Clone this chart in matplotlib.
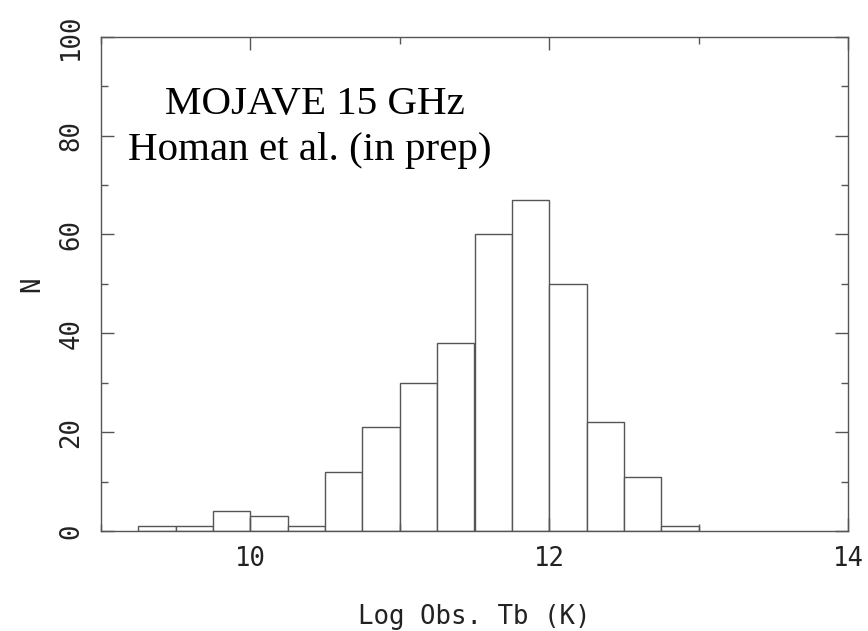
import matplotlib
matplotlib.use("Agg")
import matplotlib.pyplot as plt
from matplotlib.ticker import MultipleLocator

# Data
bin_left_edges = [9.25, 9.5, 9.75, 10.0, 10.25, 10.5, 10.75, 11.0, 11.25,
                  11.5, 11.75, 12.0, 12.25, 12.5, 12.75]
bin_width = 0.25
counts = [1, 1, 4, 3, 1, 12, 21, 30, 38, 60, 67, 50, 22, 11, 1]
x_label = "Log Obs. Tb (K)"
y_label = "N"
annot_lines = ["MOJAVE 15 GHz", "Homan et al. (in prep)"]

line_col = "#555555"
text_col = "#222222"
tick_font = "DejaVu Sans Mono"

fig = plt.figure(figsize=(8.68, 6.31), dpi=100)
ax = fig.add_axes([101 / 868, 100 / 631, 747 / 868, 494.3 / 631])

ax.bar(bin_left_edges, counts, width=bin_width, align="edge",
       facecolor="white", edgecolor=line_col, linewidth=1.0)

ax.set_xlim(9, 14)
ax.set_ylim(0, 100)

ax.xaxis.set_major_locator(MultipleLocator(2))
ax.xaxis.set_minor_locator(MultipleLocator(1))
ax.yaxis.set_major_locator(MultipleLocator(20))
ax.yaxis.set_minor_locator(MultipleLocator(10))

for s in ax.spines.values():
    s.set_color(line_col)
    s.set_linewidth(1.0)

ax.tick_params(which="both", direction="in", top=True, right=True,
               color=line_col, width=1.0)
ax.tick_params(which="major", length=9.7)
ax.tick_params(which="minor", length=5)
ax.tick_params(axis="x", which="major", pad=11, labelsize=18.5,
               labelcolor=text_col)
ax.tick_params(axis="y", which="major", pad=12, labelsize=18.5,
               labelcolor=text_col, labelrotation=90)
for lab in ax.get_xticklabels() + ax.get_yticklabels():
    lab.set_fontfamily(tick_font)
for lab in ax.get_yticklabels():
    lab.set_verticalalignment("center")

ax.set_xlabel(x_label, fontsize=18.5, fontfamily=tick_font, color=text_col)
ax.set_ylabel(y_label, fontsize=18.5, fontfamily=tick_font, color=text_col)
ax.xaxis.set_label_coords(0.5, -0.148)
ax.yaxis.set_label_coords(-0.074, 0.5)

ax.text(10.43, 84.3, annot_lines[0], ha="center", va="baseline",
        fontsize=29.5, fontfamily="Liberation Serif", color="black")
ax.text(10.40, 75.0, annot_lines[1], ha="center", va="baseline",
        fontsize=29.5, fontfamily="Liberation Serif", color="black")

fig.savefig("out.png", dpi=100)
